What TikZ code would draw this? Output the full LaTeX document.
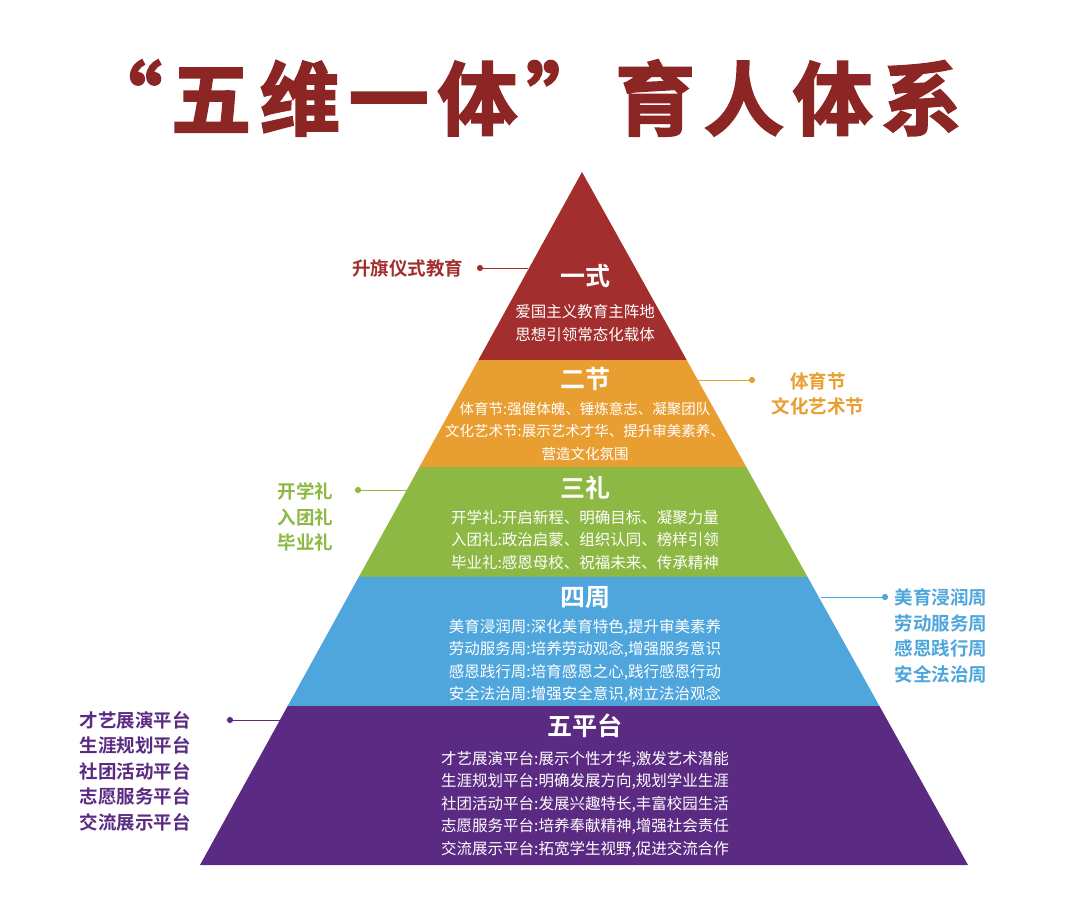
\documentclass[tikz,border=0pt]{standalone}
\usepackage{fontspec}
\newfontfamily\cjk{Noto Sans CJK SC}
\newfontfamily\cjkb{Noto Sans CJK SC Bold}
\newfontfamily\cjkt[FakeBold=2.5,LetterSpace=11]{Noto Sans CJK SC Bold}
\usetikzlibrary{calc}
\definecolor{cRed}{HTML}{A22F2D}
\definecolor{cOrange}{HTML}{E99E32}
\definecolor{cGreen}{HTML}{8DB843}
\definecolor{cBlue}{HTML}{4EA6DD}
\definecolor{cPurple}{HTML}{5B2B83}
\definecolor{cTitle}{HTML}{8C2625}
\begin{document}
\begin{tikzpicture}[x=1pt,y=-1pt,every text node part/.style={align=center}]
  \tikzstyle{head}=[text=white,font=\cjkb\fontsize{25}{28}\selectfont]
  \tikzstyle{body}=[text=white,font=\cjk\fontsize{15.5}{22.5}\selectfont]
  \tikzstyle{side}=[font=\cjkb\fontsize{18.5}{25.5}\selectfont,align=left]
  \tikzstyle{dot}=[circle,fill,inner sep=2.2pt]
  \useasboundingbox (0,0) rectangle (1080,917);
  \fill[white] (0,0) rectangle (1080,917);
  \coordinate (apex) at (582,172);
  \coordinate (bl) at (200,865);
  \coordinate (br) at (968,865);
  % bands
  \foreach \ta/\tb/\col in {0/0.2713/cRed,0.2713/0.4257/cOrange,0.4257/0.5844/cGreen,0.5844/0.7706/cBlue,0.7706/1/cPurple}{
    \fill[\col] ($(apex)!\ta!(bl)$) -- ($(apex)!\tb!(bl)$) -- ($(apex)!\tb!(br)$) -- ($(apex)!\ta!(br)$) -- cycle;
  }
  \node[font=\cjkt\fontsize{80}{88}\selectfont,text=cTitle] (title) at (522,98) {“五维一体”育人体系};
  % headings and bodies
  \node[head] (h1) at (585,276) {一式};
  \node[body] (b1) at (585,323) {爱国主义教育主阵地\\思想引领常态化载体};
  \node[head] (h2) at (585,379) {二节};
  \node[body,font=\cjk\fontsize{14.5}{22.5}\selectfont] (b2) at (585,431) {体育节:强健体魄、锤炼意志、凝聚团队\\文化艺术节:展示艺术才华、提升审美素养、\\营造文化氛围};
  \node[head] (h3) at (585,488) {三礼};
  \node[body] (b3) at (585,540) {开学礼:开启新程、明确目标、凝聚力量\\入团礼:政治启蒙、组织认同、榜样引领\\毕业礼:感恩母校、祝福未来、传承精神};
  \node[head] (h4) at (585,598) {四周};
  \node[body] (b4) at (585,661) {美育浸润周:深化美育特色,提升审美素养\\劳动服务周:培养劳动观念,增强服务意识\\感恩践行周:培育感恩之心,践行感恩行动\\安全法治周:增强安全意识,树立法治观念};
  \node[head] (h5) at (585,726) {五平台};
  \node[body] (b5) at (585,804) {才艺展演平台:展示个性才华,激发艺术潜能\\生涯规划平台:明确发展方向,规划学业生涯\\社团活动平台:发展兴趣特长,丰富校园生活\\志愿服务平台:培养奉献精神,增强社会责任\\交流展示平台:拓宽学生视野,促进交流合作};
  % side labels
  \node[side,text=cRed,anchor=east] (s1) at (467,268) {升旗仪式教育};
  \node[dot,fill=cRed] (d1) at (480,268) {};
  \draw[cRed] (d1) -- (528,268);
  \node[side,text=cOrange,anchor=west] (s2) at (768,394) {体育节\\文化艺术节};
  \node[dot,fill=cOrange] (d2) at (752,380) {};
  \draw[cOrange] (d2) -- (689,380);
  \node[side,text=cGreen,anchor=west] (s3) at (274,517) {开学礼\\入团礼\\毕业礼};
  \node[dot,fill=cGreen] (d3) at (358,490) {};
  \draw[cGreen] (d3) -- (460,490);
  \node[side,text=cBlue,anchor=west] (s4) at (891,636) {美育浸润周\\劳动服务周\\感恩践行周\\安全法治周};
  \node[dot,fill=cBlue] (d4) at (885,597) {};
  \draw[cBlue] (d4) -- (821,597);
  \node[side,text=cPurple,anchor=west] (s5) at (76,771) {才艺展演平台\\生涯规划平台\\社团活动平台\\志愿服务平台\\交流展示平台};
  \node[dot,fill=cPurple] (d5) at (230,720) {};
  \draw[cPurple] (d5) -- (282,720);
\end{tikzpicture}
\end{document}
